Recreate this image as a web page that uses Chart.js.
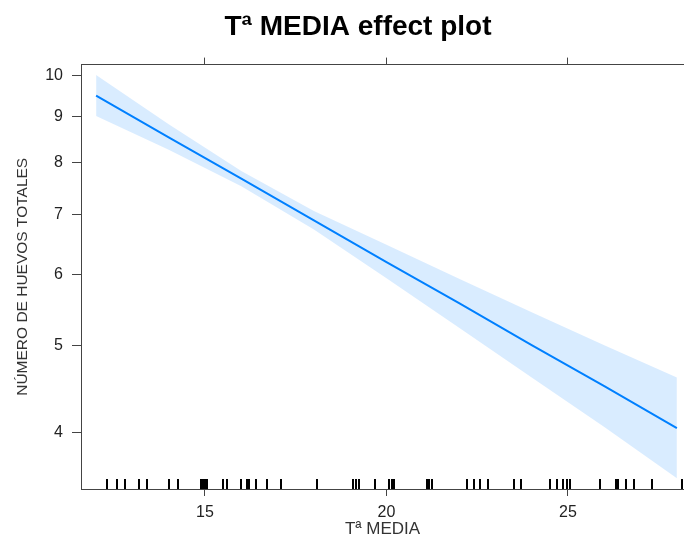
<!DOCTYPE html>
<html>
<head>
<meta charset="utf-8">
<script src="https://cdn.jsdelivr.net/npm/chart.js@4.4.0/dist/chart.umd.min.js"></script>
<style>
html, body { margin: 0; padding: 0; background: #fff; }
#wrap { width: 684px; height: 538px; }
</style>
</head>
<body>
<div id="wrap"><canvas id="effectChart" width="684" height="538"></canvas></div>
<script>
const chartTitle = 'Tª MEDIA effect plot';
const xTitle = 'Tª MEDIA';
const yTitle = 'NÚMERO DE HUEVOS TOTALES';

// fitted effect and confidence band
const tempValues = [12, 14, 16, 18, 20, 22, 24, 26, 28];
const fitValues = [9.50, 8.54, 7.68, 6.90, 6.20, 5.58, 5.01, 4.51, 4.05];
const upperValues = [10.02, 8.83, 7.83, 7.07, 6.48, 5.94, 5.45, 5.01, 4.61];
const lowerValues = [9.02, 8.27, 7.53, 6.74, 5.95, 5.24, 4.61, 4.06, 3.56];

// observed temperatures (rug along the bottom)
const rugValues = [
    12.29, 12.57, 12.80, 13.19, 13.39, 14.01, 14.26, 14.89, 14.95, 15.00, 15.05,
    15.50, 15.60, 15.98, 16.15, 16.21, 16.40, 16.70, 17.09, 18.08, 19.09, 19.16,
    19.23, 19.68, 20.08, 20.14, 20.21, 21.11, 21.17, 21.25, 22.23, 22.41, 22.58,
    22.80, 23.51, 23.70, 24.50, 24.69, 24.87, 24.96, 25.06, 25.88, 26.31, 26.39,
    26.60, 26.83, 27.31, 28.13
];

const xTicks = [15, 20, 25];
const yTicks = [4, 5, 6, 7, 8, 9, 10];

const xMin = 11.584, xMax = 28.196;
const yMin = 3.464, yMax = 10.29;

Chart.defaults.font.family = "'Liberation Sans', Arial, sans-serif";

function toPoints(values) {
    return tempValues.map((t, i) => ({ x: t, y: values[i] }));
}

const rugPlugin = {
    id: 'rug',
    afterDatasetsDraw(chart) {
        const { ctx, chartArea, scales } = chart;
        ctx.save();
        ctx.strokeStyle = '#000';
        ctx.lineWidth = 2;
        rugValues.forEach(v => {
            const px = Math.round(scales.x.getPixelForValue(v));
            ctx.beginPath();
            ctx.moveTo(px, chartArea.bottom);
            ctx.lineTo(px, chartArea.bottom - 10);
            ctx.stroke();
        });
        ctx.restore();
    }
};

// the title sits a little right of the page centre
const titleShift = {
    id: 'titleShift',
    afterLayout(chart) {
        if (chart.titleBlock) chart.titleBlock.left += 32;
    }
};

const ctx = document.getElementById('effectChart').getContext('2d');
const effectChart = new Chart(ctx, {
    type: 'line',
    data: {
        datasets: [
            {
                label: 'fit',
                data: toPoints(fitValues),
                borderColor: '#0080ff',
                borderWidth: 2,
                pointRadius: 0,
                fill: false,
                tension: 0
            },
            {
                label: 'upper',
                data: toPoints(upperValues),
                borderWidth: 0,
                borderColor: 'rgba(0,0,0,0)',
                backgroundColor: 'rgba(0, 128, 255, 0.15)',
                pointRadius: 0,
                fill: '+1',
                tension: 0
            },
            {
                label: 'lower',
                data: toPoints(lowerValues),
                borderWidth: 0,
                borderColor: 'rgba(0,0,0,0)',
                pointRadius: 0,
                fill: false,
                tension: 0
            }
        ]
    },
    options: {
        responsive: false,
        animation: false,
        devicePixelRatio: 1,
        layout: { padding: 0 },
        plugins: {
            legend: { display: false },
            tooltip: { enabled: false },
            title: {
                display: true,
                text: chartTitle,
                color: '#000',
                font: { size: 28, weight: 'bold' },
                padding: { top: 10, bottom: 12 }
            }
        },
        scales: {
            x: {
                type: 'linear',
                position: 'bottom',
                min: xMin,
                max: xMax,
                afterBuildTicks: s => { s.ticks = xTicks.map(v => ({ value: v })); },
                afterFit: s => { s.height = 49; },
                grid: { drawOnChartArea: false, tickLength: 7, color: '#444' },
                border: { color: '#444', width: 1 },
                ticks: { color: '#222', font: { size: 16 }, padding: 7, maxRotation: 0 },
                title: {
                    display: true,
                    text: xTitle,
                    color: '#333',
                    font: { size: 17, lineHeight: 1 },
                    padding: { top: 0, bottom: 0 }
                }
            },
            xTop: {
                type: 'linear',
                position: 'top',
                min: xMin,
                max: xMax,
                afterBuildTicks: s => { s.ticks = xTicks.map(v => ({ value: v })); },
                afterFit: s => { s.height = 9; },
                grid: { drawOnChartArea: false, tickLength: 7, color: '#444' },
                border: { color: '#444', width: 1 },
                ticks: { display: false }
            },
            y: {
                type: 'logarithmic',
                min: yMin,
                max: yMax,
                afterBuildTicks: s => { s.ticks = yTicks.map(v => ({ value: v })); },
                afterFit: s => { s.width = 81; },
                grid: { drawOnChartArea: false, tickLength: 9, color: '#444' },
                border: { color: '#444', width: 1 },
                ticks: { color: '#222', font: { size: 16 }, padding: 9, callback: v => String(v) },
                title: {
                    display: true,
                    text: yTitle,
                    color: '#333',
                    font: { size: 15.5 },
                    padding: { top: 13 }
                }
            }
        }
    },
    plugins: [rugPlugin, titleShift]
});
</script>
</body>
</html>
